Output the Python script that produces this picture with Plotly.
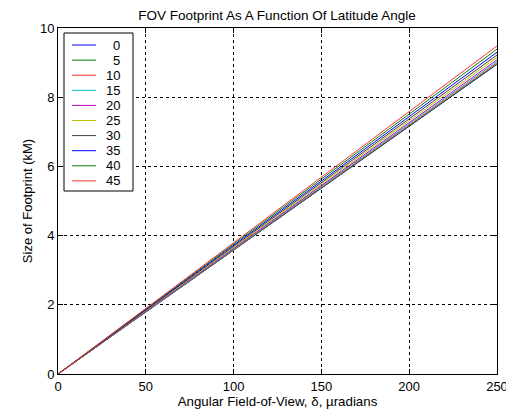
import plotly.graph_objects as go

# Angular field-of-view (µradians)
fov = [0, 50, 100, 150, 200, 250]

# Latitude angles (legend labels)
latitudes = ["0", "5", "10", "15", "20", "25", "30", "35", "40", "45"]

# Footprint size (km) read at each FOV point, per latitude
size_0 = [0, 1.79, 3.58, 5.37, 7.16, 8.95]
size_5 = [0, 1.79, 3.58, 5.38, 7.17, 8.96]
size_10 = [0, 1.80, 3.60, 5.39, 7.19, 8.99]
size_15 = [0, 1.81, 3.61, 5.42, 7.22, 9.03]
size_20 = [0, 1.82, 3.63, 5.45, 7.26, 9.08]
size_25 = [0, 1.83, 3.66, 5.49, 7.32, 9.15]
size_30 = [0, 1.84, 3.69, 5.53, 7.38, 9.22]
size_35 = [0, 1.86, 3.72, 5.58, 7.44, 9.30]
size_40 = [0, 1.88, 3.76, 5.63, 7.51, 9.39]
size_45 = [0, 1.90, 3.79, 5.69, 7.58, 9.48]

series = [size_0, size_5, size_10, size_15, size_20,
          size_25, size_30, size_35, size_40, size_45]
colors = ["#0000ff", "#008000", "#ff3030", "#00bfbf", "#bf00bf",
          "#bfbf00", "#404040", "#0000ff", "#008000", "#ff3030"]

# Figure geometry (page body has an 8px margin, so the figure is 8px smaller)
W, H = 506, 403
ML, MR, MT, MB = 50, 17, 20, 37
PW, PH = W - ML - MR, H - MT - MB


def px(fx):
    return (fx - ML) / PW


def py(fy):
    return (H - MB - fy) / PH


fig = go.Figure()
for lab, ys, c in zip(latitudes, series, colors):
    fig.add_trace(go.Scatter(x=fov, y=ys, mode="lines", name=lab,
                             line=dict(color=c, width=1), showlegend=False))

# Hand-built legend box (MATLAB-style, compact rows)
shapes = [dict(type="rect", xref="paper", yref="paper",
               x0=px(56), x1=px(125), y0=py(183), y1=py(25),
               line=dict(color="black", width=1), fillcolor="white",
               layer="above")]
annotations = []
for i, (lab, c) in enumerate(zip(latitudes, colors)):
    yy = py(37 + 15.1 * i)
    shapes.append(dict(type="line", xref="paper", yref="paper",
                       x0=px(64), x1=px(88), y0=yy, y1=yy,
                       line=dict(color=c, width=1), layer="above"))
    annotations.append(dict(text=lab, xref="paper", yref="paper",
                            x=px(114), y=yy, xanchor="right", yanchor="middle",
                            showarrow=False, font=dict(size=13, color="black")))

axis_common = dict(
    showline=True, linecolor="black", linewidth=1, mirror="ticks",
    ticks="inside", ticklen=5, tickcolor="black",
    showgrid=True, gridcolor="black", griddash="dot", gridwidth=1,
    zeroline=False, tickfont=dict(size=13, color="black"),
    automargin=False,
)

fig.update_layout(
    width=W, height=H,
    margin=dict(l=ML, r=MR, t=MT, b=MB),
    paper_bgcolor="white", plot_bgcolor="white",
    font=dict(family="Liberation Sans, Arial, sans-serif", color="black", size=12),
    title=dict(text="FOV Footprint As A Function Of Latitude Angle",
               x=(277 - 8) / W, xanchor="center", xref="container",
               y=1 - 7.5 / H, yanchor="middle", yref="container",
               font=dict(size=13.5)),
    xaxis=dict(range=[0, 250], dtick=50,
               title=dict(text="Angular Field-of-View, δ, µradians",
                          font=dict(size=13.3), standoff=2), **axis_common),
    yaxis=dict(range=[0, 10], dtick=2,
               title=dict(text="Size of Footprint (kM)",
                          font=dict(size=13), standoff=4), **axis_common),
    shapes=shapes,
    annotations=annotations,
    showlegend=False,
)

fig.write_html("out.html")
